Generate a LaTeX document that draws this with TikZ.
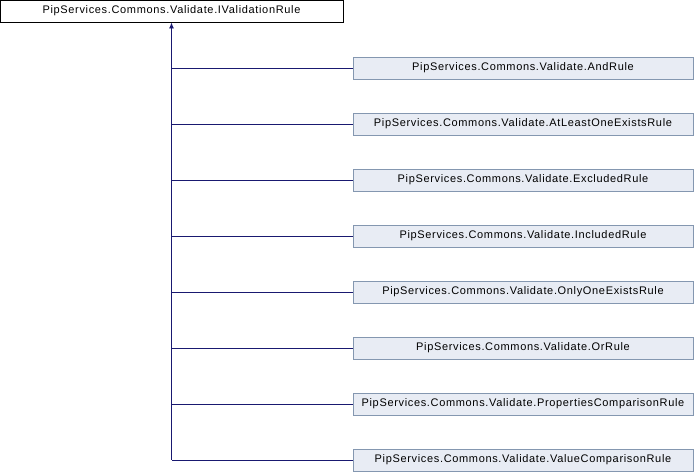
\documentclass[tikz,border=0pt]{standalone}
\usepackage{fontspec}
\setmainfont{Liberation Sans}[LetterSpace=6]
\usepackage{tikz}
\usetikzlibrary{arrows.meta,positioning}
\definecolor{edgeblue}{RGB}{25,25,112}
\definecolor{kidfill}{RGB}{232,236,244}
\definecolor{kidline}{RGB}{132,151,176}

\begin{document}
\begin{tikzpicture}[x=1pt, y=-1pt, font=\fontsize{11}{13}\selectfont,
    base/.style={rectangle, draw=black, fill=white, line width=0.9pt,
                 minimum width=343pt, minimum height=22pt, inner sep=0pt},
    kid/.style={rectangle, draw=kidline, fill=kidfill, line width=0.9pt,
                minimum width=340pt, minimum height=22pt, inner sep=0pt},
    edge/.style={draw=edgeblue, line width=0.9pt}]
\useasboundingbox (0,0) rectangle (694,472);
% interface at the top
\node[base] (ivr) at (171.5,11) {PipServices.Commons.Validate.IValidationRule};
% implementing rules
\node[kid] (andr)  at (523,68)  {PipServices.Commons.Validate.AndRule};
\node[kid] (alor)  at (523,124) {PipServices.Commons.Validate.AtLeastOneExistsRule};
\node[kid] (excr)  at (523,180) {PipServices.Commons.Validate.ExcludedRule};
\node[kid] (incr)  at (523,236) {PipServices.Commons.Validate.IncludedRule};
\node[kid] (oner)  at (523,292) {PipServices.Commons.Validate.OnlyOneExistsRule};
\node[kid] (orr)   at (523,348) {PipServices.Commons.Validate.OrRule};
\node[kid] (pcr)   at (523,404) {PipServices.Commons.Validate.PropertiesComparisonRule};
\node[kid] (vcr)   at (523,460) {PipServices.Commons.Validate.ValueComparisonRule};
% trunk with the inheritance arrow
\draw[edge, -{Latex[length=6pt,width=5pt]}] (vcr.west -| ivr.south) -- (ivr.south);
% branches into the trunk
\draw[edge] (andr.west) -- (andr.west -| ivr.south);
\draw[edge] (alor.west) -- (alor.west -| ivr.south);
\draw[edge] (excr.west) -- (excr.west -| ivr.south);
\draw[edge] (incr.west) -- (incr.west -| ivr.south);
\draw[edge] (oner.west) -- (oner.west -| ivr.south);
\draw[edge] (orr.west)  -- (orr.west -| ivr.south);
\draw[edge] (pcr.west)  -- (pcr.west -| ivr.south);
\draw[edge] (vcr.west)  -- (vcr.west -| ivr.south);
\end{tikzpicture}
\end{document}
